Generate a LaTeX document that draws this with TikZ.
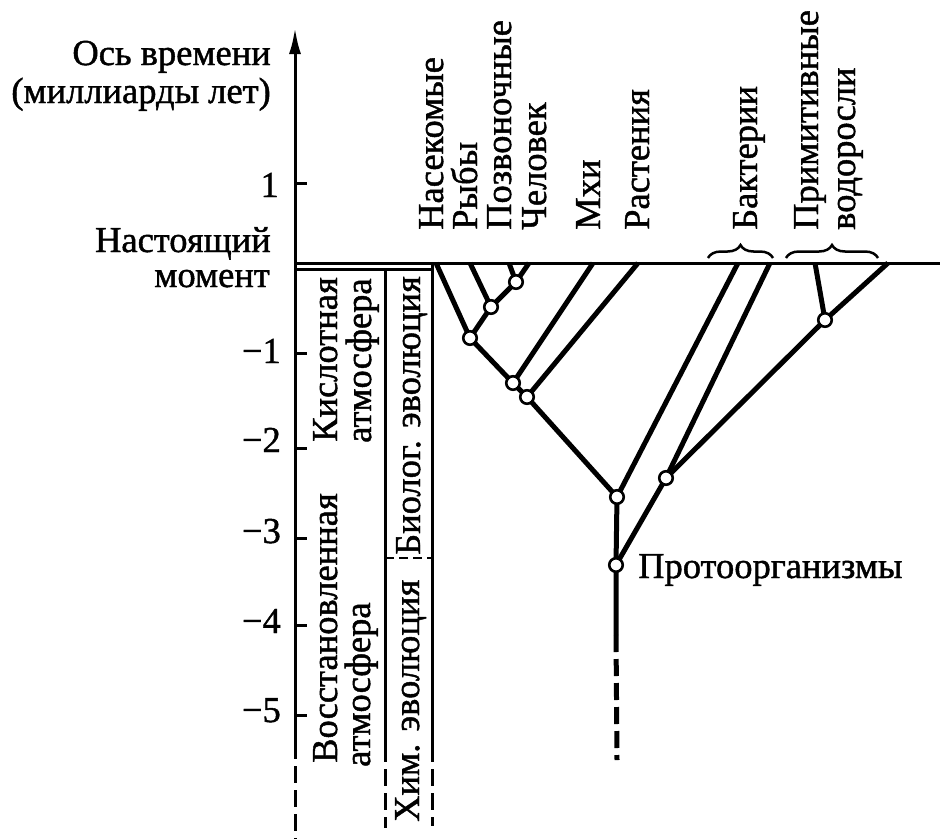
\documentclass[tikz,border=0pt]{standalone}
\usepackage{fontspec}
\setmainfont{Liberation Serif}[FakeBold=1.2]
\usetikzlibrary{arrows.meta,decorations.pathreplacing}
\begin{document}
\begin{tikzpicture}[x=1pt,y=-1pt,
  lbl/.style={font=\fontsize{36.5}{40}\selectfont, inner sep=0pt},
  vlbl/.style={lbl, rotate=90, anchor=base west},
  branch/.style={line width=5pt},
  jn/.style={circle, draw, fill=white, line width=2.6pt, minimum size=13.5pt, inner sep=0pt},
  axisline/.style={line width=3pt},
  dashline/.style={line width=3pt, dash pattern=on 17pt off 7pt},
  bracestyle/.style={line width=2.5pt, decorate, decoration={brace, amplitude=13pt}}
]
\useasboundingbox (0,0) rectangle (940,839);

% axis
\coordinate (axtop) at (295,28);
\coordinate (axbot) at (295,742);
\coordinate (axend) at (295,839);
\draw[axisline, -{Latex[length=26pt,width=12pt]}] (axbot) -- (axtop);
\draw[dashline] (axbot) -- (axend);
\foreach \y in {183,353,448,538,625,715} \draw[axisline] (295,\y) -- (307,\y);

% tick labels
\node[lbl, anchor=base east] (t1) at (279,197) {1};
\node[lbl, anchor=base east] (tm1) at (281,363) {−1};
\node[lbl, anchor=base east] (tm2) at (281,452) {−2};
\node[lbl, anchor=base east] (tm3) at (281,543) {−3};
\node[lbl, anchor=base east] (tm4) at (281,633) {−4};
\node[lbl, anchor=base east] (tm5) at (281,722) {−5};

% left labels
\node[lbl, anchor=base east] (ax1) at (271,65) {Ось времени};
\node[lbl, anchor=base east] (ax2) at (271,103) {(миллиарды лет)};
\node[lbl, anchor=base east] (now1) at (271,252) {Настоящий};
\node[lbl, anchor=base east] (now2) at (270,287) {момент};

% present line and boxes
\draw[axisline] (295,263) -- (940,263);
\draw[axisline] (295,269) -- (433,269);
\draw[axisline] (385,269) -- (385,745);
\draw[dashline] (385,745) -- (385,828);
\draw[axisline] (432,263) -- (432,745);
\draw[dashline] (432,745) -- (432,826);
\draw[line width=2pt, dash pattern=on 9pt off 5pt] (385,558) -- (432,558);

% box labels
\node[vlbl] (k1) at (337,442) {Кислотная};
\node[vlbl] (k2) at (371,443) {атмосфера};
\node[vlbl] (v1) at (337,763) {Восстановленная};
\node[vlbl] (v2) at (370,767) {атмосфера};
\node[vlbl] (bio) at (420,555) {Биолог. эволюция};
\node[vlbl] (him) at (419,822) {Хим. эволюция};

% top labels
\node[vlbl] (l1) at (443,230) {Насекомые};
\node[vlbl] (l2) at (477,230) {Рыбы};
\node[vlbl] (l3) at (511,230) {Позвоночные};
\node[vlbl] (l4) at (546,230) {Человек};
\node[vlbl] (l5) at (600,230) {Мхи};
\node[vlbl] (l6) at (649,230) {Растения};
\node[vlbl] (l7) at (757,230) {Бактерии};
\node[vlbl] (l8) at (818,230) {Примитивные};
\node[vlbl] (l9) at (855,230) {водоросли};

% braces
\draw[bracestyle] (708,258) -- (773,258);
\draw[bracestyle] (786,258) -- (878,258);

% tree tops
\coordinate (tIns) at (436,263);
\coordinate (tFish) at (470,263);
\coordinate (tVert) at (509,263);
\coordinate (tHum) at (529,263);
\coordinate (tMh) at (593,263);
\coordinate (tRas) at (638,263);
\coordinate (tB1) at (738,263);
\coordinate (tB2) at (770,263);
\coordinate (tA1) at (815,263);
\coordinate (tA2) at (888,263);
\coordinate (pSolid) at (616,635);
\coordinate (pEnd) at (617,760);

% junction positions
\coordinate (c1) at (470,338);
\coordinate (c2) at (491,307);
\coordinate (c3) at (516,282);
\coordinate (c4) at (513,383);
\coordinate (c5) at (527,397);
\coordinate (c6) at (617,497);
\coordinate (c7) at (666,478);
\coordinate (cp) at (616,565);
\coordinate (c8) at (825,320);

% branches
\draw[branch] (tIns) -- (c1) -- (c2) -- (c3) -- (tHum);
\draw[branch] (tFish) -- (c2);
\draw[branch] (tVert) -- (c3);
\draw[branch] (c1) -- (c4) -- (c5) -- (c6) -- (cp) -- (pSolid);
\draw[branch] (c4) -- (tMh);
\draw[branch] (c5) -- (tRas);
\draw[branch] (c6) -- (tB1);
\draw[branch] (cp) -- (c7) -- (tB2);
\draw[branch] (c7) -- (c8) -- (tA1);
\draw[branch] (c8) -- (tA2);
\draw[branch, dash pattern=on 17pt off 7pt] (pSolid) -- (pEnd);

% junction circles
\foreach \n in {c1,c2,c3,c4,c5,c6,c7,cp,c8} \node[jn] (j\n) at (\n) {};

\node[lbl, anchor=base west] (proto) at (638,578) {Протоорганизмы};
\end{tikzpicture}
\end{document}
